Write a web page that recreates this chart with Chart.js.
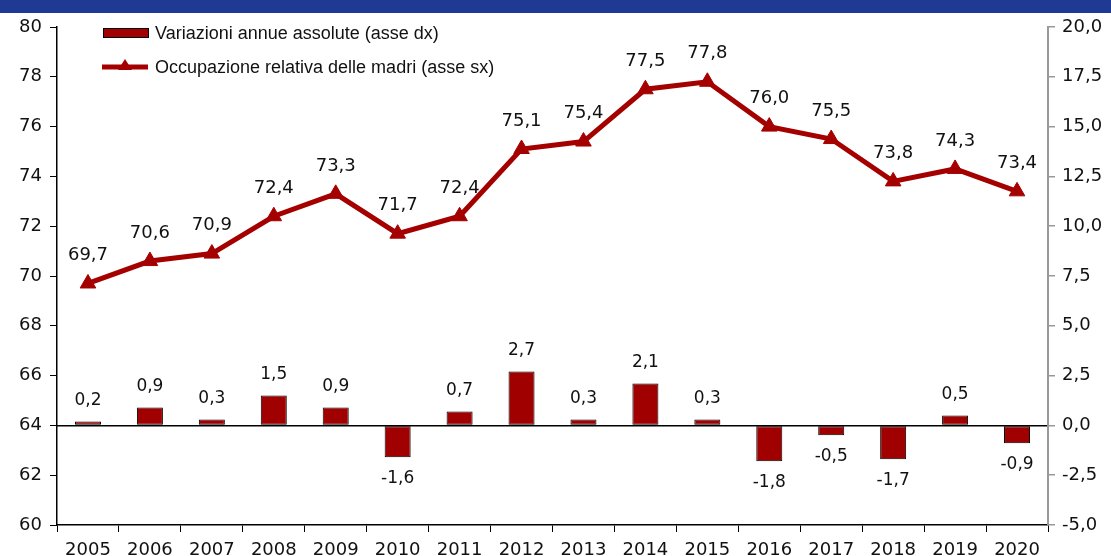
<!DOCTYPE html>
<html>
<head>
<meta charset="utf-8">
<script src="https://cdn.jsdelivr.net/npm/chart.js@4/dist/chart.umd.min.js"></script>
<style>
  html, body { margin: 0; padding: 0; background: #fff; }
  #wrap { width: 1111px; height: 556px; position: relative; }
</style>
</head>
<body>
<div id="wrap"><canvas id="chart" width="1111" height="556"></canvas></div>
<script>
const years = ['2005','2006','2007','2008','2009','2010','2011','2012','2013','2014','2015','2016','2017','2018','2019','2020'];
const occupazioneMadri = [69.7, 70.6, 70.9, 72.4, 73.3, 71.7, 72.4, 75.1, 75.4, 77.5, 77.8, 76.0, 75.5, 73.8, 74.3, 73.4];
const variazioniAnnue = [0.2, 0.9, 0.3, 1.5, 0.9, -1.6, 0.7, 2.7, 0.3, 2.1, 0.3, -1.8, -0.5, -1.7, 0.5, -0.9];
const legendLabels = ['Variazioni annue assolute (asse dx)', 'Occupazione relativa delle madri (asse sx)'];

const RED = '#a50000';
const NUM_FONT = '"DejaVu Sans", Verdana, sans-serif';
const fmt = (v, d) => v.toFixed(d).replace('.', ',');

// blue header band, value labels and legend
const extras = {
  id: 'extras',
  beforeDraw(chart) {
    const c = chart.ctx;
    c.save();
    c.fillStyle = '#1f3a93';
    c.fillRect(0, 0, chart.width, 13);
    c.restore();
  },
  afterDatasetsDraw(chart) {
    const c = chart.ctx;
    c.save();
    c.fillStyle = '#111';
    c.textAlign = 'center';
    c.textBaseline = 'middle';

    // bar labels
    c.font = '17px ' + NUM_FONT;
    chart.getDatasetMeta(0).data.forEach((bar, i) => {
      const v = variazioniAnnue[i];
      const y = v >= 0 ? bar.y - 21 : bar.y + 21;
      c.fillText(fmt(v, 1), bar.x, y);
    });

    // line labels
    c.font = '18px ' + NUM_FONT;
    chart.getDatasetMeta(1).data.forEach((pt, i) => {
      c.fillText(fmt(occupazioneMadri[i], 1), pt.x, pt.y - 28);
    });

    // legend
    const lx = 103, lw = 45;
    c.fillStyle = RED;
    c.strokeStyle = '#000';
    c.lineWidth = 1;
    c.fillRect(lx + 0.5, 28.5, lw, 9);
    c.strokeRect(lx + 0.5, 28.5, lw, 9);
    c.beginPath();
    c.strokeStyle = RED;
    c.lineWidth = 5;
    c.moveTo(lx - 1, 67); c.lineTo(lx + lw, 67);
    c.stroke();
    c.beginPath();
    c.moveTo(lx + 22, 59); c.lineTo(lx + 29, 70); c.lineTo(lx + 15, 70); c.closePath();
    c.fill();
    c.fillStyle = '#111';
    c.textAlign = 'left';
    c.font = '18px "Liberation Sans", Arial, sans-serif';
    c.fillText(legendLabels[0], 155, 34);
    c.fillText(legendLabels[1], 155, 68);
    c.restore();
  }
};

new Chart(document.getElementById('chart'), {
  data: {
    labels: years,
    datasets: [
      {
        type: 'bar',
        label: legendLabels[0],
        data: variazioniAnnue,
        yAxisID: 'y2',
        backgroundColor: '#a00000',
        borderColor: '#000',
        borderWidth: 1,
        borderSkipped: false,
        barPercentage: 0.42,
        categoryPercentage: 1,
        order: 2
      },
      {
        type: 'line',
        label: legendLabels[1],
        data: occupazioneMadri,
        yAxisID: 'y',
        borderColor: RED,
        backgroundColor: RED,
        borderWidth: 5,
        pointStyle: 'triangle',
        pointRadius: 9,
        pointBorderWidth: 1,
        tension: 0,
        order: 1
      }
    ]
  },
  options: {
    responsive: false,
    animation: false,
    layout: { padding: { top: 27, left: 0, right: 0, bottom: 0 } },
    plugins: { legend: { display: false }, tooltip: { enabled: false } },
    scales: {
      x: {
        offset: true,
        grid: { offset: true, drawOnChartArea: false, color: '#000', tickLength: 7, tickColor: '#000' },
        border: { color: '#000', width: 1.5 },
        ticks: { color: '#111', font: { family: NUM_FONT, size: 18 }, padding: 8, maxRotation: 0 },
        afterFit(s) { s.height = 31; }
      },
      y: {
        position: 'left',
        min: 60, max: 80,
        ticks: { stepSize: 2, color: '#111', font: { family: NUM_FONT, size: 18 }, padding: 8 },
        grid: { drawOnChartArea: false, tickLength: 7, tickColor: '#000' },
        border: { color: '#000', width: 1.5 },
        afterFit(s) { s.width = 57; }
      },
      y2: {
        position: 'right',
        min: -5, max: 20,
        ticks: { stepSize: 2.5, color: '#111', font: { family: NUM_FONT, size: 18 }, padding: 7,
                 callback: v => fmt(v, 1) },
        grid: {
          drawOnChartArea: true,
          color: ctx => (ctx.tick && ctx.tick.value === 0 ? '#000' : 'rgba(0,0,0,0)'),
          lineWidth: 1.5,
          tickLength: 7,
          tickColor: '#999'
        },
        border: { color: '#999', width: 2 },
        afterFit(s) { s.width = 63; }
      }
    }
  },
  plugins: [extras]
});
</script>
</body>
</html>
